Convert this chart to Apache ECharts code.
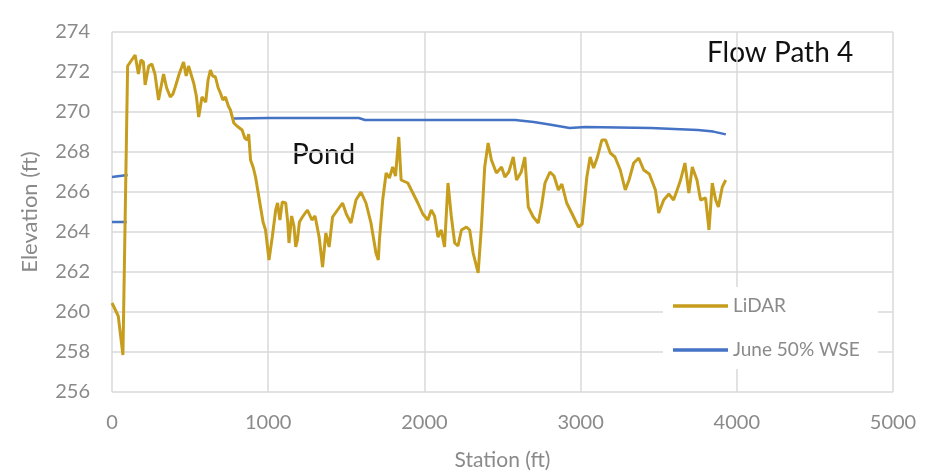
<!DOCTYPE html>
<html>
<head>
<meta charset="utf-8">
<script src="https://cdn.jsdelivr.net/npm/echarts@6/dist/echarts.min.js"></script>
<style>
    html, body { margin: 0; padding: 0; background: #fff; }
    #chart { width: 927px; height: 476px; }
</style>
</head>
<body>
<div id="chart"></div>
<script>
// LiDAR ground profile, station (ft) and elevation (ft)
var lidarStation = [
    0, 40, 70, 100, 148, 169, 185, 201, 212, 235, 255, 275, 298, 315, 330, 350, 373, 390, 405, 430,
    458, 475, 490, 501, 523, 540, 555, 576, 600, 615, 630, 645, 662, 680, 694, 710, 726, 745, 758, 780,
    800, 833, 850, 866, 875, 887, 905, 919, 935, 951, 967, 983, 1005, 1026, 1048, 1060, 1075, 1090, 1112, 1125,
    1133, 1150, 1165, 1176, 1187, 1200, 1219, 1251, 1280, 1300, 1326, 1348, 1369, 1390, 1412, 1444, 1476, 1500, 1530, 1562,
    1594, 1626, 1658, 1690, 1705, 1712, 1733, 1755, 1776, 1797, 1815, 1836, 1851, 1894, 1926, 1958, 1990, 2022, 2044, 2065,
    2087, 2108, 2129, 2151, 2172, 2194, 2215, 2237, 2269, 2290, 2312, 2344, 2365, 2386, 2408, 2429, 2461, 2494, 2515, 2540,
    2569, 2590, 2620, 2643, 2665, 2697, 2729, 2750, 2772, 2804, 2830, 2858, 2880, 2911, 2943, 2986, 3010, 3040, 3061, 3083,
    3108, 3136, 3160, 3190, 3220, 3254, 3286, 3310, 3340, 3372, 3404, 3440, 3479, 3500, 3532, 3565, 3595, 3618, 3640, 3668,
    3693, 3715, 3745, 3768, 3800, 3822, 3843, 3865, 3882, 3907, 3929
];
var lidarElev = [
    260.45, 259.8, 257.85, 272.3, 272.85, 271.9, 272.6, 272.5, 271.35, 272.3, 272.4, 271.9, 270.6, 271.3, 271.9, 271.2, 270.75, 270.9, 271.25, 271.9,
    272.5, 271.8, 272.3, 272.25, 271.45, 270.8, 269.75, 270.75, 270.5, 271.6, 272.1, 271.8, 271.75, 271.2, 270.95, 270.6, 270.75, 270.3, 270.1, 269.45,
    269.3, 269.1, 268.7, 268.6, 268.9, 267.6, 267.2, 266.75, 266.0, 265.25, 264.5, 264.1, 262.6, 263.75, 265.1, 265.45, 264.6, 265.5, 265.45, 264.5,
    263.45, 264.8, 264.3, 263.25, 263.6, 264.5, 264.75, 265.1, 264.6, 264.8, 263.75, 262.25, 263.95, 263.25, 264.75, 265.1, 265.45, 264.9, 264.45, 265.6,
    266.0, 265.45, 264.45, 262.95, 262.6, 263.6, 265.6, 266.95, 266.7, 267.25, 266.8, 268.75, 266.6, 266.45, 265.95, 265.45, 264.9, 264.6, 265.1, 264.8,
    263.75, 264.1, 263.25, 266.45, 264.8, 263.45, 263.3, 264.1, 264.25, 264.1, 262.95, 261.95, 264.25, 267.25, 268.45, 267.6, 266.95, 267.25, 266.75, 267.0,
    267.75, 266.6, 267.0, 267.75, 265.25, 264.75, 264.45, 265.3, 266.45, 267.0, 266.8, 266.1, 266.4, 265.45, 264.95, 264.25, 264.4, 266.75, 267.75, 267.2,
    267.75, 268.6, 268.6, 267.95, 267.75, 267.1, 266.1, 266.6, 267.45, 267.7, 267.1, 266.9, 266.1, 264.95, 265.6, 265.9, 265.6, 266.1, 266.6, 267.45,
    265.95, 267.25, 266.6, 265.6, 265.7, 264.1, 266.45, 265.6, 265.25, 266.25, 266.6
];

// June 50% water surface, drawn as three separate pieces
var wseUpperStation = [0, 100];
var wseUpperElev = [266.75, 266.85];
var wseLowerStation = [0, 95];
var wseLowerElev = [264.5, 264.5];
var wseMainStation = [780, 1000, 1580, 1620, 2200, 2580, 2700, 2800, 2930, 3030, 3450, 3750, 3850, 3930];
var wseMainElev = [269.68, 269.7, 269.7, 269.6, 269.6, 269.6, 269.5, 269.38, 269.2, 269.25, 269.2, 269.1, 269.02, 268.88];

var xTicks = [0, 1000, 2000, 3000, 4000, 5000];
var yTicks = [256, 258, 260, 262, 264, 266, 268, 270, 272, 274];

var FONT = 'Lato';
var GOLD = '#C69D1D';
var BLUE = '#4472C4';
var LABEL_GRAY = '#8a8a8a';

function pairs(xs, ys) {
    return xs.map(function (x, i) {
        return [x, ys[i]];
    });
}

function wseSeries(xs, ys) {
    return {
        name: 'June 50% WSE',
        type: 'line',
        data: pairs(xs, ys),
        showSymbol: false,
        symbol: 'none',
        z: 2,
        lineStyle: { color: BLUE, width: 2.5 },
        itemStyle: { color: BLUE }
    };
}

var chart = echarts.init(document.getElementById('chart'), null, { renderer: 'canvas' });

var option = {
    backgroundColor: '#fff',
    animation: false,
    textStyle: { fontFamily: FONT },
    grid: {
        left: 112,
        right: 34,
        top: 32,
        bottom: 84
    },
    xAxis: {
        type: 'value',
        min: xTicks[0],
        max: xTicks[xTicks.length - 1],
        interval: 1000,
        name: 'Station (ft)',
        nameLocation: 'middle',
        nameGap: 58,
        nameTextStyle: { color: LABEL_GRAY, fontSize: 21, fontFamily: FONT },
        axisLine: { show: false },
        axisTick: { show: false },
        axisLabel: {
            color: LABEL_GRAY,
            fontSize: 20,
            margin: 21,
            fontFamily: FONT,
            formatter: function (value) {
                return String(value);
            }
        },
        splitLine: { show: true, lineStyle: { color: '#d9d9d9', width: 1.5 } }
    },
    yAxis: {
        type: 'value',
        min: yTicks[0],
        max: yTicks[yTicks.length - 1],
        interval: 2,
        name: 'Elevation (ft)',
        nameLocation: 'middle',
        nameGap: 71,
        nameTextStyle: { color: LABEL_GRAY, fontSize: 22, fontFamily: FONT },
        axisLine: { show: false },
        axisTick: { show: false },
        axisLabel: { color: LABEL_GRAY, fontSize: 20, margin: 22, fontFamily: FONT },
        splitLine: { show: true, lineStyle: { color: '#d9d9d9', width: 1.5 } }
    },
    legend: {
        orient: 'vertical',
        left: 663,
        top: 287,
        padding: [8, 18, 8, 10],
        icon: 'rect',
        itemWidth: 55,
        itemHeight: 3.5,
        itemGap: 22,
        backgroundColor: '#fff',
        data: ['LiDAR', 'June 50% WSE'],
        textStyle: { color: LABEL_GRAY, fontSize: 19, lineHeight: 22, fontFamily: FONT }
    },
    graphic: [
        {
            type: 'text',
            left: 707,
            top: 39,
            style: { text: 'Flow Path 4', fill: '#111', font: '28px Lato' }
        },
        {
            type: 'text',
            left: 292,
            top: 141,
            style: { text: 'Pond', fill: '#111', font: '28px Lato' }
        }
    ],
    series: [
        {
            name: 'LiDAR',
            type: 'line',
            data: pairs(lidarStation, lidarElev),
            showSymbol: false,
            symbol: 'none',
            z: 3,
            lineStyle: { color: GOLD, width: 3 },
            itemStyle: { color: GOLD }
        },
        wseSeries(wseUpperStation, wseUpperElev),
        wseSeries(wseLowerStation, wseLowerElev),
        wseSeries(wseMainStation, wseMainElev)
    ]
};

chart.setOption(option);
</script>
</body>
</html>
